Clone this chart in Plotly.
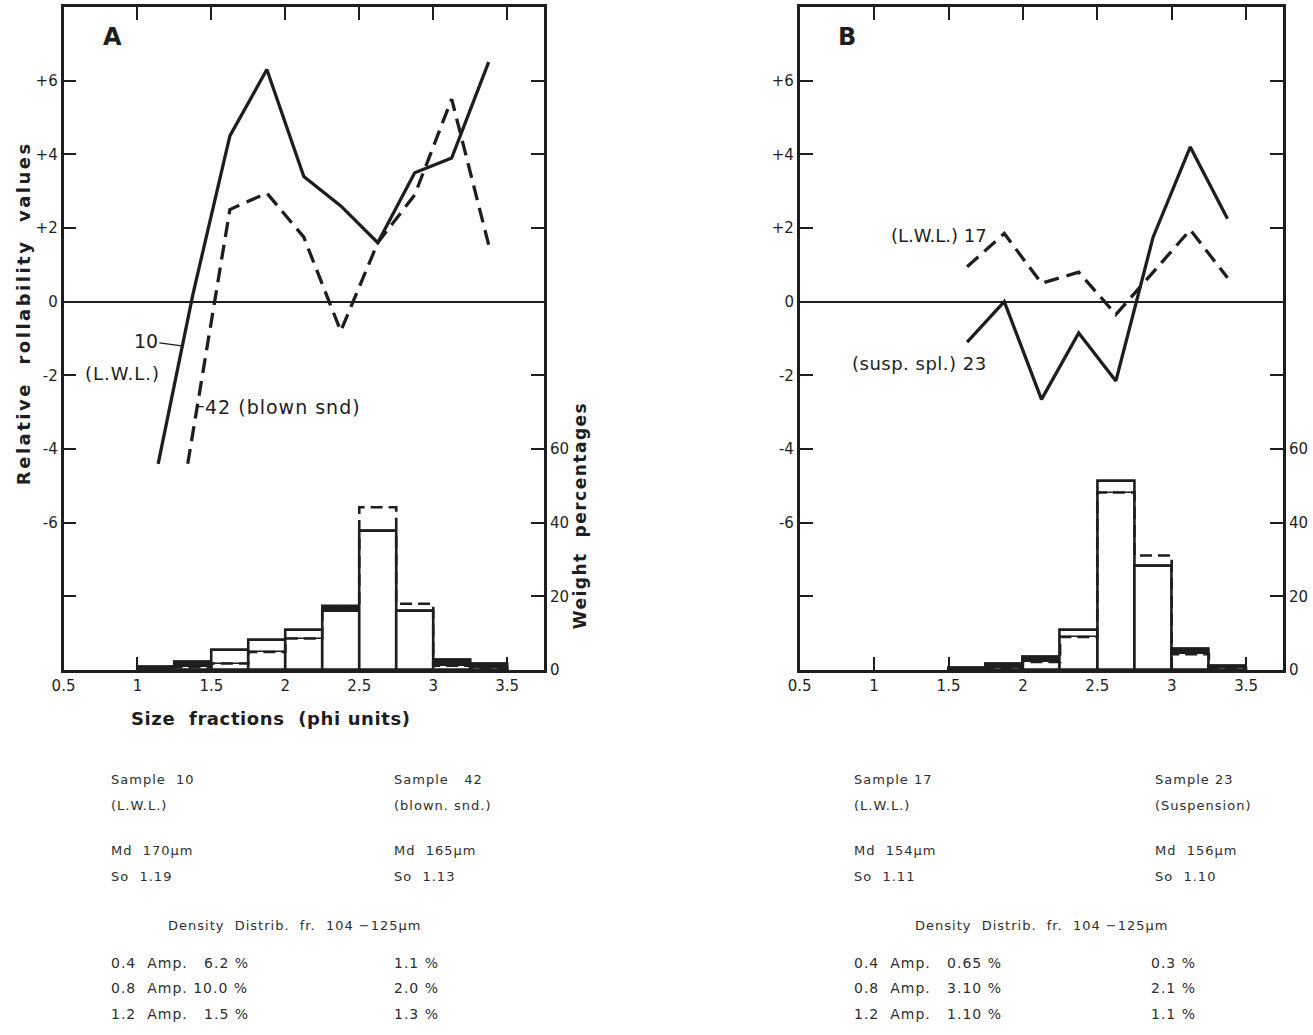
import plotly.graph_objects as go

# ---------------- data ----------------
# Panel A
bin_edges_A = [1.0, 1.25, 1.5, 1.75, 2.0, 2.25, 2.5, 2.75, 3.0, 3.25, 3.5]
bin_centers_A = [1.125, 1.375, 1.625, 1.875, 2.125, 2.375, 2.625, 2.875, 3.125, 3.375]
weight_sample10 = [1.0, 2.2, 5.5, 8.3, 11.0, 16.0, 37.8, 16.0, 2.8, 1.8]   # solid
weight_sample42 = [0.3, 0.8, 1.8, 4.9, 8.6, 17.3, 44.2, 18.0, 1.2, 0.5]    # dashed
roll_x_sample10 = [1.14, 1.375, 1.625, 1.875, 2.125, 2.375, 2.625, 2.875, 3.125, 3.375]
roll_sample10 = [-4.4, 0.2, 4.5, 6.3, 3.4, 2.6, 1.6, 3.5, 3.9, 6.5]
roll_x_sample42 = [1.34, 1.625, 1.875, 2.125, 2.375, 2.625, 2.875, 3.125, 3.375]
roll_sample42 = [-4.4, 2.5, 2.95, 1.75, -0.8, 1.6, 2.9, 5.5, 1.55]

# Panel B
bin_edges_B = [1.5, 1.75, 2.0, 2.25, 2.5, 2.75, 3.0, 3.25, 3.5]
bin_centers_B = [1.625, 1.875, 2.125, 2.375, 2.625, 2.875, 3.125, 3.375]
weight_sample23 = [0.6, 1.6, 3.6, 10.9, 51.3, 28.3, 5.7, 1.2]   # solid
weight_sample17 = [0.2, 0.6, 2.2, 9.0, 48.2, 31.1, 4.3, 0.5]    # dashed
roll_x_B = [1.625, 1.875, 2.125, 2.375, 2.625, 2.875, 3.125, 3.375]
roll_sample17 = [0.95, 1.85, 0.5, 0.8, -0.35, 0.8, 1.95, 0.65]
roll_sample23 = [-1.1, 0.0, -2.65, -0.85, -2.15, 1.75, 4.2, 2.25]

# axis ticks
x_tickvals = [0.5, 1, 1.5, 2, 2.5, 3, 3.5]
x_ticktext = ["0.5", "1", "1.5", "2", "2.5", "3", "3.5"]
y_tickvals = [-8, -6, -4, -2, 0, 2, 4, 6]
y_ticktext = ["", "-6", "-4", "-2", "0", "+2", "+4", "+6"]
w_tickvals = [0, 20, 40, 60, 80, 100, 120, 140, 160]
w_ticktext = ["0", "20", "40", "60", "", "", "", "", ""]

# text blocks
info_A_left = ["Sample  10", "(L.W.L.)", "Md  170\u03bcm", "So  1.19"]
info_A_right = ["Sample   42", "(blown. snd.)", "Md  165\u03bcm", "So  1.13"]
info_B_left = ["Sample 17", "(L.W.L.)", "Md  154\u03bcm", "So  1.11"]
info_B_right = ["Sample 23", "(Suspension)", "Md  156\u03bcm", "So  1.10"]
density_title = "Density  Distrib.  fr.  104 \u2212125\u03bcm"
amp_A_left = ["0.4  Amp.   6.2 %", "0.8  Amp. 10.0 %", "1.2  Amp.   1.5 %"]
amp_A_right = ["1.1 %", "2.0 %", "1.3 %"]
amp_B_left = ["0.4  Amp.   0.65 %", "0.8  Amp.   3.10 %", "1.2  Amp.   1.10 %"]
amp_B_right = ["0.3 %", "2.1 %", "1.1 %"]

# ---------------- figure ----------------
W, H = 1313, 1035
INK = "#1e1e1e"
GREY = "#2e2e2e"
FONT = "DejaVu Sans"


def px(x, y):
    return x / W, 1 - y / H


def nb(s, spacing=0):
    s = s.replace(" ", "\u00a0")
    if spacing:
        s = '<span style="letter-spacing:%spx">%s</span>' % (spacing, s)
    return s


fig = go.Figure()


def add_panel(xa, ya, wa, edges, centers, w_solid, w_dash, rx_solid, r_solid, rx_dash, r_dash):
    # solid histogram
    fig.add_trace(go.Bar(x=centers, y=w_solid, width=0.25, xaxis=xa, yaxis=wa,
                         marker=dict(color="white", line=dict(color=INK, width=2.6)),
                         showlegend=False, hoverinfo="skip"))
    # dashed histogram outline (step)
    sx, sy = [edges[0]], [0]
    for i, v in enumerate(w_dash):
        sx += [edges[i], edges[i + 1]]
        sy += [v, v]
    sx += [edges[-1]]
    sy += [0]
    fig.add_trace(go.Scatter(x=sx, y=sy, mode="lines", xaxis=xa, yaxis=wa,
                             line=dict(color=INK, width=2.6, dash="12px,6px"),
                             showlegend=False, hoverinfo="skip"))
    # shaded band where both histograms nearly coincide
    base = [min(a, b) for a, b in zip(w_solid, w_dash)]
    diff = [abs(a - b) if abs(a - b) < 1.8 else 0 for a, b in zip(w_solid, w_dash)]
    fig.add_trace(go.Bar(x=centers, y=diff, base=base, width=0.25, xaxis=xa, yaxis=wa,
                         marker=dict(color=INK, line=dict(color=INK, width=1.5)),
                         showlegend=False, hoverinfo="skip"))
    # rollability lines
    fig.add_trace(go.Scatter(x=rx_solid, y=r_solid, mode="lines", xaxis=xa, yaxis=ya,
                             line=dict(color=INK, width=3.3), showlegend=False))
    fig.add_trace(go.Scatter(x=rx_dash, y=r_dash, mode="lines", xaxis=xa, yaxis=ya,
                             line=dict(color=INK, width=3.3, dash="15px,8px"), showlegend=False))


add_panel("x", "y", "y2", bin_edges_A, bin_centers_A, weight_sample10, weight_sample42,
          roll_x_sample10, roll_sample10, roll_x_sample42, roll_sample42)
add_panel("x2", "y3", "y4", bin_edges_B, bin_centers_B, weight_sample23, weight_sample17,
          roll_x_B, roll_sample23, roll_x_B, roll_sample17)

tickfont = dict(family=FONT, size=15, color=INK)
ydom = [1 - 676 / H, 1 - 7 / H]
xdomA = [52 / W, 537 / W]
xdomB = [795 / W, 1283 / W]

xcommon = dict(range=[0.5, 3.75], tickvals=x_tickvals, ticktext=x_ticktext, ticks="inside",
               ticklen=13, tickwidth=2, tickcolor=INK, showline=True, linewidth=2.6,
               linecolor=INK, mirror="ticks", showgrid=False, zeroline=False, tickfont=tickfont)
ycommon = dict(range=[-10, 8], tickvals=y_tickvals, ticktext=y_ticktext, ticks="inside",
               ticklen=13, tickwidth=2, tickcolor=INK, showline=True, linewidth=2.6,
               linecolor=INK, showgrid=False, zeroline=True, zerolinecolor=INK,
               zerolinewidth=1.5, tickfont=tickfont, domain=ydom)
wcommon = dict(range=[0, 180], tickvals=w_tickvals, ticktext=w_ticktext, ticks="inside",
               ticklen=13, tickwidth=2, tickcolor=INK, showline=True, linewidth=2.6,
               linecolor=INK, showgrid=False, zeroline=False, tickfont=tickfont, side="right")

fig.update_layout(
    width=W, height=H, margin=dict(l=0, r=0, t=0, b=0),
    paper_bgcolor="white", plot_bgcolor="white", barmode="overlay", bargap=0,
    font=dict(family=FONT, color=INK),
    xaxis=dict(domain=xdomA, anchor="y", **xcommon),
    yaxis=dict(anchor="x", **ycommon),
    yaxis2=dict(anchor="x", overlaying="y", **wcommon),
    xaxis2=dict(domain=xdomB, anchor="y3", **xcommon),
    yaxis3=dict(anchor="x2", **ycommon),
    yaxis4=dict(anchor="x2", overlaying="y3", **wcommon),
)

ann = []


def text(x, y, s, size=14, bold=False, xanchor="center", angle=0, color=INK, spacing=0):
    xp, yp = px(x, y)
    ann.append(dict(x=xp, y=yp, xref="paper", yref="paper", text=nb(s, spacing), showarrow=False,
                    xanchor=xanchor, yanchor="middle", textangle=angle,
                    font=dict(family=FONT, size=size, color=color,
                              weight="bold" if bold else "normal")))


# panel letters
text(101, 37, "A", size=24, bold=True)
text(843, 37, "B", size=24, bold=True)

# axis titles
text(118, 725, "Size  fractions  (phi units)", size=18, bold=True, xanchor="left", spacing=0.6)
text(11, 316, "Relative  rollability  values", size=18, bold=True, angle=-90, spacing=2.5)
text(574, 520, "Weight  percentages", size=17, bold=True, angle=-90, spacing=1.5)

# curve labels (A)
ann.append(dict(x=1.30, y=-1.2, xref="x", yref="y", ax=-36, ay=-5, text="10",
                showarrow=True, arrowhead=0, arrowwidth=1.3, arrowcolor=INK,
                font=dict(family=FONT, size=19, color=INK)))
text(112, 377, "(L.W.L.)", size=18, spacing=1)
ann.append(dict(x=1.404, y=-2.85, xref="x", yref="y", ax=86, ay=0,
                text=nb("42 (blown snd)", 1),
                showarrow=True, arrowhead=0, arrowwidth=1.3, arrowcolor=INK,
                font=dict(family=FONT, size=19, color=INK)))
# curve labels (B)
text(986, 238, "(L.W.L.) 17", size=18, xanchor="right")
text(986, 367, "(susp. spl.) 23", size=18, xanchor="right", spacing=0.5)

# info blocks
colA_l, colA_r, colB_l, colB_r = 98, 384, 848, 1152
rows_y = [786, 813, 858, 884]
for i, s in enumerate(info_A_left):
    text(colA_l, rows_y[i], s, size=13, xanchor="left", color=GREY, spacing=1)
for i, s in enumerate(info_A_right):
    text(colA_r, rows_y[i], s, size=13, xanchor="left", color=GREY, spacing=1)
for i, s in enumerate(info_B_left):
    text(colB_l, rows_y[i], s, size=13, xanchor="left", color=GREY, spacing=1)
for i, s in enumerate(info_B_right):
    text(colB_r, rows_y[i], s, size=13, xanchor="left", color=GREY, spacing=1)

text(286, 934, density_title, size=13, color=GREY, spacing=1)
text(1040, 934, density_title, size=13, color=GREY, spacing=1)

amp_y = [971, 997, 1023]
for i, s in enumerate(amp_A_left):
    text(colA_l, amp_y[i], s, size=14, xanchor="left", color=GREY, spacing=1)
for i, s in enumerate(amp_A_right):
    text(colA_r, amp_y[i], s, size=14, xanchor="left", color=GREY, spacing=1)
for i, s in enumerate(amp_B_left):
    text(colB_l, amp_y[i], s, size=14, xanchor="left", color=GREY, spacing=1)
for i, s in enumerate(amp_B_right):
    text(colB_r - 5, amp_y[i], s, size=14, xanchor="left", color=GREY, spacing=1)

fig.update_layout(annotations=ann)
fig.write_html("out.html")
